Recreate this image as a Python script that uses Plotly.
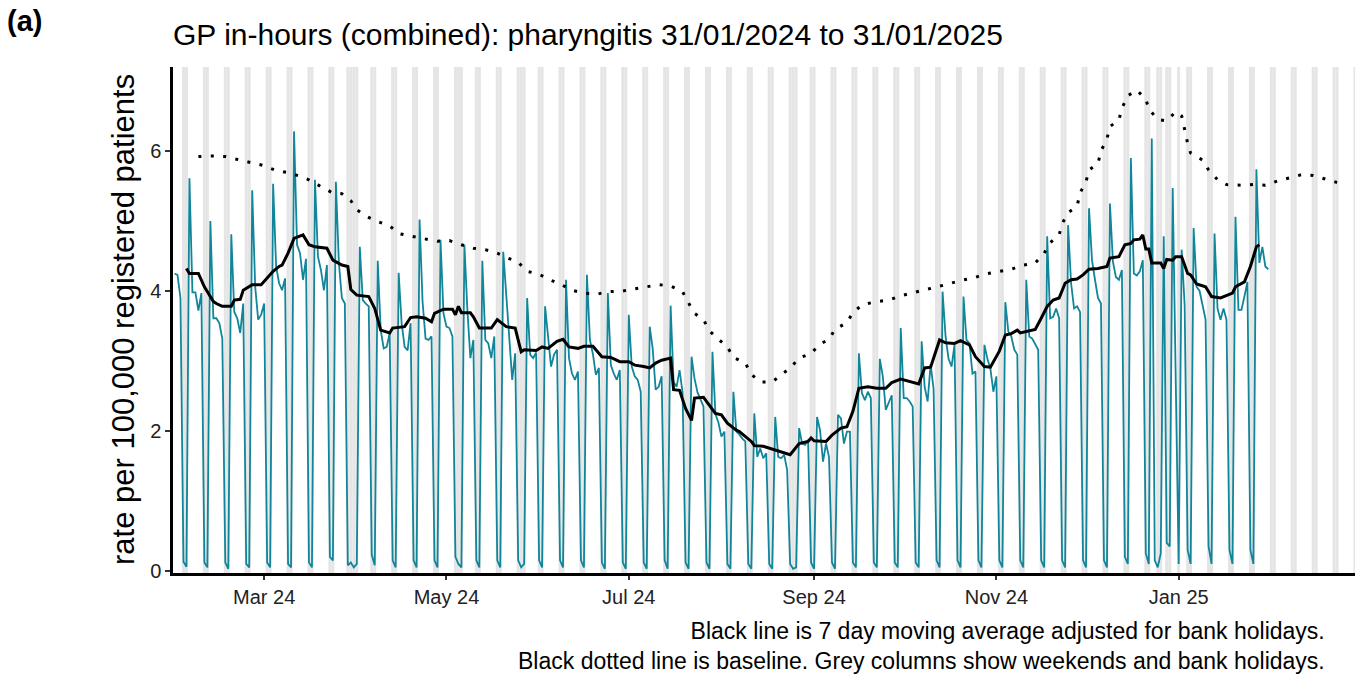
import pandas as pd
import plotly.graph_objects as go

START = "2024-01-31"

# daily rate per 100,000, Wed 31/01/2024 .. Fri 31/01/2025 (rows are Mon-Sun weeks)
rate = [
    4.25, 4.23, 3.90, 0.13, 0.06,
    5.61, 3.98, 3.98, 3.72, 3.97, 0.12, 0.05,
    5.00, 3.61, 3.61, 3.54, 3.32, 0.12, 0.03,
    4.81, 3.70, 3.61, 3.40, 3.82, 0.10, 0.05,
    5.44, 4.06, 3.59, 3.66, 3.82, 0.12, 0.05,
    5.53, 4.35, 4.11, 4.01, 4.18, 0.10, 0.05,
    6.28, 4.66, 4.54, 4.16, 4.46, 0.12, 0.05,
    5.59, 4.49, 4.30, 4.01, 4.37, 0.20, 0.15,
    5.56, 4.40, 3.90, 3.82, 0.08, 0.12, 0.05,
    0.10, 4.63, 3.87, 3.82, 3.78, 0.23, 0.08,
    4.43, 3.44, 3.18, 3.20, 3.40, 0.15, 0.05,
    4.26, 3.54, 3.20, 3.15, 3.54, 0.15, 0.05,
    5.02, 3.85, 3.32, 3.30, 3.35, 0.15, 0.05,
    4.73, 3.68, 3.49, 3.47, 3.35, 0.20, 0.10,
    0.05, 4.66, 3.73, 3.04, 3.30, 0.15, 0.05,
    4.43, 3.30, 3.25, 3.04, 3.35, 0.15, 0.05,
    4.56, 3.97, 3.25, 2.73, 3.11, 0.15, 0.05,
    0.10, 3.90, 3.09, 3.04, 3.12, 0.15, 0.05,
    3.78, 3.35, 2.92, 3.09, 3.16, 0.15, 0.05,
    4.16, 3.04, 2.82, 2.73, 2.85, 0.15, 0.05,
    4.23, 3.30, 3.10, 2.80, 2.90, 0.12, 0.03,
    3.97, 2.94, 2.82, 2.73, 2.87, 0.12, 0.03,
    3.66, 2.92, 2.78, 2.73, 2.56, 0.12, 0.03,
    3.49, 3.18, 2.59, 2.63, 2.78, 0.15, 0.03,
    3.79, 2.70, 2.63, 2.87, 2.55, 0.12, 0.03,
    3.06, 2.75, 2.55, 2.45, 2.35, 0.12, 0.03,
    3.13, 2.24, 2.12, 1.92, 1.99, 0.10, 0.03,
    2.56, 1.99, 1.95, 1.89, 1.85, 0.10, 0.03,
    2.25, 1.63, 1.75, 1.61, 1.68, 0.10, 0.03,
    2.20, 1.63, 1.61, 1.66, 1.44, 0.10, 0.03,
    0.05, 2.04, 1.82, 1.80, 1.87, 0.12, 0.03,
    2.20, 2.01, 1.56, 1.82, 1.63, 0.12, 0.03,
    2.23, 2.18, 1.82, 1.99, 1.99, 0.12, 0.05,
    3.11, 2.54, 2.44, 2.56, 2.47, 0.12, 0.05,
    3.03, 2.78, 2.30, 2.42, 2.51, 0.12, 0.05,
    3.47, 2.47, 2.47, 2.42, 2.35, 0.12, 0.05,
    3.28, 2.63, 2.42, 2.95, 2.60, 0.15, 0.05,
    3.99, 3.35, 3.03, 2.92, 3.23, 0.15, 0.05,
    3.92, 3.30, 3.25, 2.82, 2.85, 0.15, 0.05,
    3.23, 3.03, 2.89, 2.56, 2.78, 0.15, 0.05,
    3.84, 3.42, 3.35, 3.16, 3.09, 0.15, 0.05,
    4.16, 3.35, 3.32, 3.25, 3.16, 0.15, 0.05,
    4.78, 3.61, 3.63, 3.75, 3.61, 0.15, 0.05,
    4.94, 4.11, 3.75, 3.78, 3.70, 0.15, 0.05,
    5.18, 4.44, 4.16, 3.90, 3.82, 0.15, 0.05,
    5.25, 4.42, 4.20, 4.16, 4.30, 0.20, 0.10,
    5.90, 4.25, 4.22, 4.28, 4.44, 0.25, 0.10,
    6.18, 0.15, 0.05, 0.25, 4.78, 0.40, 0.35,
    5.47, 2.60, 0.10, 4.59, 3.80, 0.30, 0.10,
    4.90, 4.06, 4.00, 3.80, 3.59, 0.35, 0.10,
    4.82, 3.75, 3.59, 3.75, 3.59, 0.30, 0.10,
    5.06, 3.73, 3.73, 3.92, 4.13, 0.30, 0.10,
    5.74, 4.40, 4.63, 4.35, 4.31,
]

# 7 day moving average (days after 31/01/2024, value)
ma_day = [4, 5, 8, 10, 13, 14, 16, 19, 20, 22, 23, 26, 29, 31, 33, 35, 36, 38, 40, 43,
          45, 47, 51, 53, 56, 58, 59, 61, 65, 67, 69, 72, 73, 77, 79, 81, 84, 86, 87, 90,
          93, 94, 95, 96, 99, 100, 102, 106, 108, 111, 114, 116, 117, 121, 123, 125, 128, 130, 132, 135,
          137, 140, 143, 146, 149, 152, 154, 157, 159, 161, 163, 166, 167, 169, 171, 173, 174, 177, 181, 183,
          185, 188, 189, 193, 194, 197, 200, 203, 206, 209, 212, 213, 214, 218, 220, 223, 225, 227, 229, 232,
          235, 238, 240, 243, 246, 249, 251, 253, 256, 258, 261, 263, 266, 268, 271, 273, 276, 278, 280, 282,
          283, 285, 288, 290, 292, 294, 296, 298, 300, 302, 304, 306, 309, 312, 313, 316, 318, 320, 321, 323,
          324, 325, 326, 327, 330, 331, 332, 334, 335, 337, 339, 340, 342, 345, 347, 350, 352, 354, 355, 358,
          360, 362, 363]
ma_rate = [4.32, 4.25, 4.25, 4.06, 3.85, 3.82, 3.78, 3.78, 3.87, 3.88, 4.01, 4.09, 4.09, 4.18, 4.28, 4.35, 4.37, 4.54, 4.75, 4.80,
           4.66, 4.63, 4.61, 4.44, 4.37, 4.35, 4.02, 3.94, 3.92, 3.75, 3.44, 3.40, 3.47, 3.49, 3.62, 3.63, 3.61, 3.56, 3.68, 3.74,
           3.74, 3.66, 3.78, 3.69, 3.69, 3.63, 3.47, 3.47, 3.59, 3.49, 3.47, 3.13, 3.16, 3.15, 3.20, 3.18, 3.28, 3.31, 3.20, 3.18,
           3.21, 3.21, 3.06, 3.05, 2.99, 2.99, 2.94, 2.92, 2.90, 2.97, 3.01, 3.04, 2.59, 2.58, 2.32, 2.15, 2.47, 2.48, 2.25, 2.23,
           2.11, 2.01, 1.99, 1.85, 1.79, 1.78, 1.74, 1.70, 1.66, 1.82, 1.85, 1.90, 1.86, 1.85, 1.94, 2.04, 2.06, 2.28, 2.61, 2.63,
           2.61, 2.61, 2.69, 2.74, 2.70, 2.67, 2.90, 2.91, 3.30, 3.26, 3.25, 3.29, 3.23, 3.06, 2.92, 2.91, 3.14, 3.37, 3.39, 3.44,
           3.40, 3.42, 3.45, 3.61, 3.78, 3.87, 3.90, 4.11, 4.16, 4.17, 4.23, 4.31, 4.32, 4.35, 4.47, 4.49, 4.66, 4.68, 4.73, 4.74,
           4.80, 4.60, 4.60, 4.40, 4.40, 4.32, 4.45, 4.44, 4.49, 4.49, 4.25, 4.23, 4.10, 4.06, 3.92, 3.90, 3.94, 3.97, 4.06, 4.13,
           4.35, 4.63, 4.66]

# baseline (days after 31/01/2024, value)
base_day = [8, 13, 17, 21, 26, 30, 34, 38, 42, 46, 49, 53, 56, 59, 61, 64, 68, 72, 75, 79,
            83, 88, 92, 96, 100, 104, 108, 111, 115, 118, 122, 125, 129, 133, 137, 141, 145, 150, 154, 158,
            162, 166, 170, 172, 174, 177, 179, 182, 185, 187, 191, 193, 196, 200, 203, 206, 209, 213, 216, 219,
            221, 225, 227, 230, 234, 239, 243, 247, 251, 255, 259, 263, 267, 271, 276, 280, 284, 288, 291, 293,
            296, 297, 299, 302, 303, 305, 306, 309, 310, 312, 313, 316, 317, 319, 322, 325, 326, 329, 332, 335,
            337, 338, 339, 340, 344, 346, 349, 352, 357, 361, 365, 369, 373, 377, 381, 385, 389]
base_rate = [5.92, 5.93, 5.92, 5.88, 5.83, 5.79, 5.72, 5.69, 5.64, 5.57, 5.49, 5.40, 5.39, 5.29, 5.16, 5.07, 4.99, 4.93, 4.82, 4.78,
             4.75, 4.71, 4.72, 4.66, 4.61, 4.59, 4.54, 4.48, 4.41, 4.28, 4.24, 4.17, 4.10, 4.01, 3.97, 3.95, 3.99, 4.00, 4.03, 4.07,
             4.09, 4.07, 3.99, 3.83, 3.68, 3.59, 3.43, 3.31, 3.20, 3.05, 2.97, 2.81, 2.70, 2.70, 2.80, 2.90, 3.04, 3.11, 3.24, 3.31,
             3.45, 3.55, 3.69, 3.80, 3.84, 3.87, 3.93, 3.97, 4.01, 4.06, 4.10, 4.15, 4.18, 4.24, 4.28, 4.31, 4.37, 4.40, 4.54, 4.69,
             4.80, 4.96, 5.12, 5.21, 5.40, 5.56, 5.73, 5.82, 6.00, 6.17, 6.35, 6.44, 6.61, 6.79, 6.87, 6.74, 6.60, 6.45, 6.43, 6.56,
             6.50, 6.29, 6.11, 5.97, 5.87, 5.73, 5.59, 5.52, 5.51, 5.52, 5.51, 5.57, 5.62, 5.66, 5.65, 5.60, 5.55]

bank_holidays = ["2024-03-29", "2024-04-01", "2024-05-06", "2024-05-27",
                 "2024-08-26", "2024-12-25", "2024-12-26", "2025-01-01"]

tick_dates = ["2024-03-01", "2024-05-01", "2024-07-01", "2024-09-01", "2024-11-01", "2025-01-01"]
tick_text = ["Mar 24", "May 24", "Jul 24", "Sep 24", "Nov 24", "Jan 25"]

start = pd.Timestamp(START)
dates = pd.date_range(start, periods=len(rate), freq="D")
ma_dates = start + pd.to_timedelta(ma_day, unit="D")
base_dates = start + pd.to_timedelta(base_day, unit="D")

calendar = pd.date_range(start, "2025-03-01", freq="D")
weekends = calendar[calendar.dayofweek >= 5]
grey_days = weekends.union(pd.DatetimeIndex(bank_holidays))

Y_TOP = 7.2
FONT = "Liberation Sans, Arial, sans-serif"

fig = go.Figure()

# weekend / bank holiday columns
fig.add_trace(go.Bar(
    x=grey_days,
    y=[Y_TOP + 0.1] * len(grey_days),
    base=-0.1,
    width=86400000,
    marker=dict(color="#e5e5e5", line=dict(width=0)),
    hoverinfo="skip",
))
fig.add_trace(go.Scatter(
    x=dates, y=rate, mode="lines",
    line=dict(color="#11859a", width=1.8),
))
fig.add_trace(go.Scatter(
    x=base_dates, y=base_rate, mode="lines",
    line=dict(color="black", width=3, dash="3px,9.4px"),
))
fig.add_trace(go.Scatter(
    x=ma_dates, y=ma_rate, mode="lines",
    line=dict(color="black", width=3),
))

fig.update_layout(
    width=1367,
    height=674,
    template="plotly_white",
    showlegend=False,
    plot_bgcolor="white",
    paper_bgcolor="white",
    font=dict(family=FONT, color="black"),
    margin=dict(l=173, r=12, t=67, b=101),
    title=dict(
        text="GP in-hours (combined): pharyngitis 31/01/2024 to 31/01/2025",
        font=dict(size=30, family=FONT, color="black"),
        x=173 / 1367, xanchor="left", xref="container",
        y=1 - 34 / 674, yanchor="middle", yref="container",
    ),
    xaxis=dict(
        range=["2024-01-30 12:00", "2025-03-01"],
        tickvals=tick_dates,
        ticktext=tick_text,
        showgrid=False,
        zeroline=False,
        showline=True, linecolor="black", linewidth=2.5,
        ticks="outside", ticklen=4, tickwidth=1.5, tickcolor="#333333",
        tickfont=dict(size=20, color="#222222"),
    ),
    yaxis=dict(
        range=[-0.03, Y_TOP],
        tickvals=[0, 2, 4, 6],
        showgrid=False,
        zeroline=False,
        showline=True, linecolor="black", linewidth=2.5,
        ticks="outside", ticklen=5, tickwidth=1.5, tickcolor="#333333",
        tickfont=dict(size=20, color="#222222"),
    ),
    annotations=[
        dict(
            text="rate per 100,000 registered patients",
            textangle=-90, showarrow=False,
            xref="paper", yref="paper", x=-50 / 1182, y=0.5,
            xanchor="center", yanchor="middle",
            font=dict(size=31, family=FONT, color="black"),
        ),
        dict(
            text="<b>(a)</b>", showarrow=False,
            xref="paper", yref="paper", x=-168 / 1182, y=(573 - 21) / 506,
            xanchor="left", yanchor="middle",
            font=dict(size=29, family=FONT, color="black"),
        ),
        dict(
            text="Black line is 7 day moving average adjusted for bank holidays.<br>"
                 "Black dotted line is baseline. Grey columns show weekends and bank holidays.",
            showarrow=False, align="right",
            xref="paper", yref="paper", x=(1327 - 173) / 1182, y=(573 - 646) / 506,
            xanchor="right", yanchor="middle",
            font=dict(size=23, family=FONT, color="black"),
        ),
    ],
)

fig.write_html(
    "out.html",
    config={"displayModeBar": False},
    post_script="document.body.style.margin='0';",
)
